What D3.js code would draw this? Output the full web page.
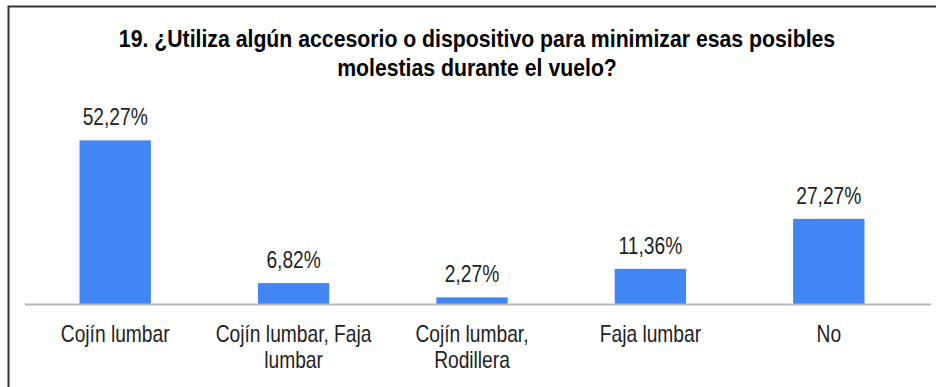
<!DOCTYPE html>
<html>
<head>
<meta charset="utf-8">
<script src="https://cdn.jsdelivr.net/npm/d3@7"></script>
<style>
  html, body { margin: 0; padding: 0; background: #fff; }
  svg { display: block; }
</style>
</head>
<body>
<script>
// Survey question 19: accessories used to reduce discomfort during the flight
const titleLines = [
  "19. ¿Utiliza algún accesorio o dispositivo para minimizar esas posibles",
  "molestias durante el vuelo?"
];
const categories = [
  "Cojín lumbar",
  "Cojín lumbar, Faja lumbar",
  "Cojín lumbar, Rodillera",
  "Faja lumbar",
  "No"
];
// Category labels split over lines as they wrap under each bar
const categoryLines = [
  ["Cojín lumbar"],
  ["Cojín lumbar, Faja", "lumbar"],
  ["Cojín lumbar,", "Rodillera"],
  ["Faja lumbar"],
  ["No"]
];
const values = [52.27, 6.82, 2.27, 11.36, 27.27];
const valueLabels = ["52,27%", "6,82%", "2,27%", "11,36%", "27,27%"];

const W = 936, H = 387;
const font = "'Liberation Sans', Arial, sans-serif";
// condensed look: horizontally squeezed glyphs
const squeeze = 0.8;
const titleSqueeze = 0.885;

const svg = d3.select("body").append("svg")
  .attr("width", W).attr("height", H);

svg.append("rect").attr("width", W).attr("height", H).attr("fill", "#fff");

// frame: top and left edges
svg.append("path")
  .attr("d", `M${8.5},${H} V${6.5} H${W}`)
  .attr("fill", "none")
  .attr("stroke", "#333")
  .attr("stroke-width", 2);

// title
svg.append("g").selectAll("text").data(titleLines).join("text")
  .attr("transform", (d, i) => `translate(477,${47 + i * 28.5}) scale(${titleSqueeze},1)`)
  .attr("text-anchor", "middle")
  .attr("font-family", font)
  .attr("font-weight", "bold")
  .attr("font-size", 24)
  .attr("fill", "#000")
  .text(d => d);

const baseY = 304.5;
const x = d3.scaleBand()
  .domain(categories)
  .range([26, 918])
  .paddingInner(0.6)
  .paddingOuter(0.3);

const y = d3.scaleLinear()
  .domain([0, 60])
  .range([baseY, baseY - 188.4]);

// bars
svg.append("g").selectAll("rect").data(values).join("rect")
  .attr("x", (d, i) => x(categories[i]))
  .attr("width", x.bandwidth())
  .attr("y", d => y(d))
  .attr("height", d => y(0) - y(d))
  .attr("fill", "#4285F4");

// baseline
svg.append("line")
  .attr("x1", 25).attr("x2", 931)
  .attr("y1", baseY).attr("y2", baseY)
  .attr("stroke", "#b7b7b7")
  .attr("stroke-width", 2);

// value labels above bars
svg.append("g").selectAll("text").data(values).join("text")
  .attr("transform", (d, i) =>
    `translate(${x(categories[i]) + x.bandwidth() / 2},${y(d) - 15}) scale(${squeeze},1)`)
  .attr("text-anchor", "middle")
  .attr("font-family", font)
  .attr("font-size", 24)
  .attr("fill", "#222")
  .text((d, i) => valueLabels[i]);

// category labels
const cat = svg.append("g").selectAll("g").data(categories).join("g")
  .attr("transform", c => `translate(${x(c) + x.bandwidth() / 2},0)`);

cat.each(function(c, i) {
  d3.select(this).selectAll("text").data(categoryLines[i]).join("text")
    .attr("transform", (d, j) => `translate(0,${342 + j * 26}) scale(${squeeze},1)`)
    .attr("text-anchor", "middle")
    .attr("font-family", font)
    .attr("font-size", 24)
    .attr("fill", "#222")
    .text(d => d);
});
</script>
</body>
</html>
